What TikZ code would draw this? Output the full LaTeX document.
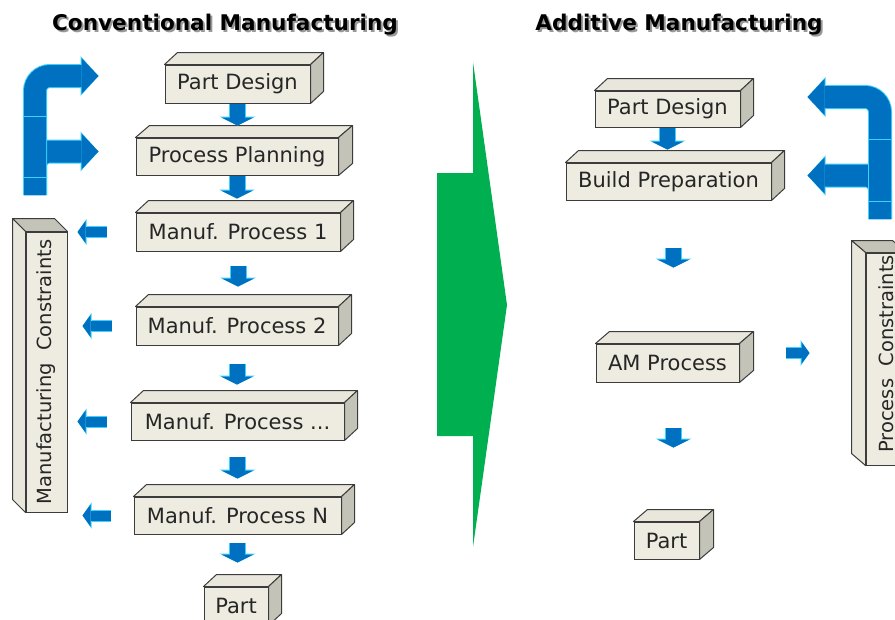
\documentclass[tikz,border=0pt]{standalone}
\usepackage{fontspec}
\setmainfont{DejaVu Sans}
\usetikzlibrary{arrows.meta}

\definecolor{slabface}{RGB}{238,236,225}
\definecolor{slabtop}{RGB}{233,231,220}
\definecolor{slabside}{RGB}{196,195,184}
\definecolor{slabedge}{RGB}{60,60,60}
\definecolor{flowblue}{RGB}{0,112,192}
\definecolor{glowcyan}{RGB}{60,210,255}
\definecolor{shiftgreen}{RGB}{0,176,80}

\newcommand\slabfont{\fontsize{21}{25}\selectfont}
\newcommand\pillarfont{\fontsize{19.5}{23}\selectfont}
\newcommand\headfont{\fontsize{21.6}{26}\selectfont\bfseries}

% top face and right end of a lying box; #2 is the depth
\newcommand\slabfaces[2]{%
  \filldraw[draw=slabedge, fill=slabtop, line width=1pt, line join=round]
    (#1.north west) -- ++(#2) -- ([shift={(#2)}]#1.north east) -- (#1.north east) -- cycle;
  \filldraw[draw=slabedge, fill=slabside, line width=1pt, line join=round]
    (#1.north east) -- ++(#2) -- ([shift={(#2)}]#1.south east) -- (#1.south east) -- cycle;
}
% top end and left face of a standing box
\newcommand\pillarfaces[2]{%
  \filldraw[draw=slabedge, fill=slabside, line width=1pt, line join=round]
    (#1.north west) -- ++(#2) -- ([shift={(#2)}]#1.north east) -- (#1.north east) -- cycle;
  \filldraw[draw=slabedge, fill=slabtop, line width=1pt, line join=round]
    (#1.north west) -- ++(#2) -- ([shift={(#2)}]#1.south west) -- (#1.south west) -- cycle;
}

\begin{document}
\begin{tikzpicture}[x=1pt, y=-1pt,
    slab/.style={draw=slabedge, fill=slabface, line width=1pt, inner sep=0pt, text=black!85, font=\slabfont},
    flow/.style={draw=flowblue, line width=15pt, -{Triangle[length=8pt,width=32pt,line width=0pt]},
      preaction={draw=glowcyan, line width=17pt, -{Triangle[length=9pt,width=36pt,line width=0pt]}}},
    sideflow/.style={draw=flowblue, line width=10pt, -{Triangle[length=8pt,width=22pt,line width=0pt]},
      preaction={draw=glowcyan, line width=12pt, -{Triangle[length=9pt,width=26pt,line width=0pt]}}},
    loopflow/.style={draw=flowblue, line width=22pt, rounded corners=15pt, -{Triangle[length=17pt,width=36pt,line width=0pt]},
      preaction={draw=glowcyan, line width=24pt, -{Triangle[length=18pt,width=40pt,line width=0pt]}}}]
    \useasboundingbox (0,0) rectangle (895,619);
    \clip (0,0) rectangle (895,619);
    \fill[white] (0,0) rectangle (895,619);

    % headings
    \node[anchor=base, font=\headfont, text=black!40] (convshade) at (227,32) {Conventional Manufacturing};
    \node[anchor=base, font=\headfont] (conv) at (225,30) {Conventional Manufacturing};
    \node[anchor=base, font=\headfont, text=black!40] (addshade) at (681,32) {Additive Manufacturing};
    \node[anchor=base, font=\headfont] (add) at (679,30) {Additive Manufacturing};

    % conventional chain
    \node[slab, minimum width=145pt, minimum height=38pt] (pd) at (237.5,84) {Part Design};
    \node[slab, minimum width=202pt, minimum height=37pt] (pp) at (237,156.5) {Process Planning};
    \node[slab, minimum width=204pt, minimum height=38pt] (m1) at (238,232) {Manuf. Process 1};
    \node[slab, minimum width=202pt, minimum height=38pt] (m2) at (237,326) {Manuf. Process 2};
    \node[slab, minimum width=213pt, minimum height=37pt] (m3) at (237.5,421.5) {Manuf. Process ...};
    \node[slab, minimum width=207pt, minimum height=37pt] (mn) at (237.5,515.5) {Manuf. Process N};
    \node[slab, minimum width=64pt, minimum height=38pt] (part) at (236,606) {Part};
    \node[slab, minimum width=41pt, minimum height=280pt] (mc) at (46.5,372) {};
    \node[rotate=90, font=\pillarfont, text=black!85] (mclabel) at (mc) {Manufacturing\ \ Constraints};
    \slabfaces{pd}{13,-12}
    \slabfaces{pp}{14,-12}
    \slabfaces{m1}{13,-12}
    \slabfaces{m2}{13,-12}
    \slabfaces{m3}{13,-12}
    \slabfaces{mn}{13,-12}
    \slabfaces{part}{13,-12}
    \pillarfaces{mc}{-13,-13}

    % additive chain
    \node[slab, minimum width=145pt, minimum height=36pt] (apd) at (667.5,109) {Part Design};
    \node[slab, minimum width=205pt, minimum height=37pt] (bp) at (668.5,181.5) {Build Preparation};
    \node[slab, minimum width=143pt, minimum height=38pt] (am) at (667.5,363) {AM Process};
    \node[slab, minimum width=65pt, minimum height=37pt] (apart) at (666.5,540.5) {Part};
    \node[slab, minimum width=40pt, minimum height=212pt] (pc) at (886,359) {};
    \node[rotate=90, font=\pillarfont, text=black!85] (pclabel) at ([yshift=5pt]pc) {Process\ \ Constraints};
    \slabfaces{apd}{13,-12}
    \slabfaces{bp}{13,-12}
    \slabfaces{am}{14,-12}
    \slabfaces{apart}{14,-12}
    \pillarfaces{pc}{-14,-12}

    % big green shift arrow
    \fill[shiftgreen] (437,173) -- (473,173) -- (473,62) -- (507,305) -- (473,547) -- (473,436) -- (437,436) -- cycle;

    % flow down the conventional chain
    \draw[flow, shorten >=12pt] (pd.south) -- (pd.south |- pp.north);
    \draw[flow, shorten >=14pt] (pp.south) -- (pp.south |- m1.north);
    \draw[flow, shorten <=14pt, shorten >=20pt] (m1.south) -- (m1.south |- m2.north);
    \draw[flow, shorten <=18pt, shorten >=18pt] (m2.south) -- (m2.south |- m3.north);
    \draw[flow, shorten <=16pt, shorten >=18pt] (m3.south) -- (m3.south |- mn.north);
    \draw[flow, shorten <=8pt, shorten >=24pt] (mn.south) -- (mn.south |- part.north);

    % every process feeds the constraints
    \draw[sideflow, shorten <=29pt, shorten >=10pt] (m1.west) -- (m1.west -| mc.east);
    \draw[sideflow, shorten <=24pt, shorten >=15pt] (m2.west) -- (m2.west -| mc.east);
    \draw[sideflow, shorten <=24pt, shorten >=10pt] (m3.west) -- (m3.west -| mc.east);
    \draw[sideflow, shorten <=23pt, shorten >=15pt] (mn.west) -- (mn.west -| mc.east);

    % flow down the additive chain
    \draw[flow, shorten >=13pt] (apd.south) -- (apd.south |- bp.north);
    \draw[flow, shorten <=47pt, shorten >=76pt] ([xshift=5pt]bp.south) -- ([xshift=5pt]bp.south |- am.north);
    \draw[flow, shorten <=45pt, shorten >=74pt] ([xshift=6pt]am.south) -- ([xshift=6pt]am.south |- apart.north);
    \draw[sideflow, shorten <=46pt, shorten >=56pt] ([yshift=10pt]am.east) -- ([yshift=10pt]am.east -| pc.west);

    % feedback into design and planning
    \coordinate (fbl) at (35,195);
    \coordinate (fbr) at (880,219);
    \draw[loopflow, shorten >=37pt] (fbl) |- ([yshift=5pt]pp.west);
    \draw[loopflow, shorten >=66pt] (fbl) |- ([yshift=8pt]pd.west);
    \draw[loopflow, shorten >=36pt] (fbr) |- ([yshift=6pt]bp.east);
    \draw[loopflow, shorten >=67pt] (fbr) |- ([yshift=12pt]apd.east);
    \draw[glowcyan] (24,116) -- (46,116) (24,177) -- (46,177);
    \draw[glowcyan] (869,139) -- (891,139) (869,201) -- (891,201);
\end{tikzpicture}
\end{document}
